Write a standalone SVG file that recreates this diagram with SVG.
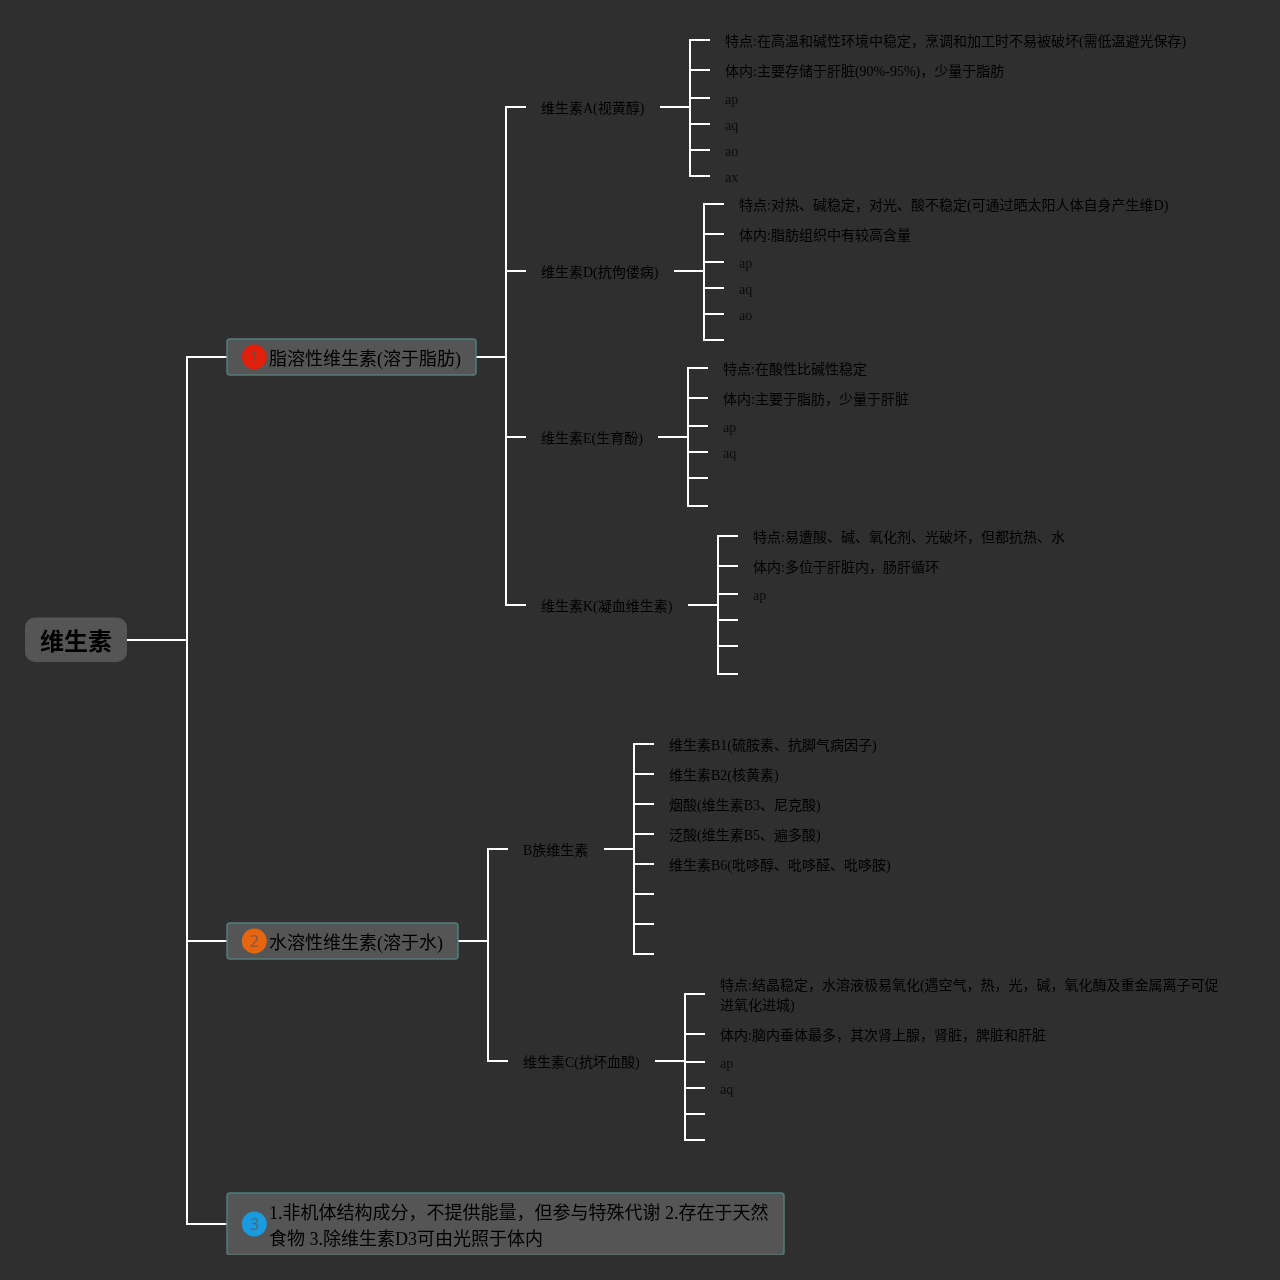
<svg xmlns="http://www.w3.org/2000/svg" width="1280" height="1280" viewBox="0 0 1280 1280">
<defs><filter id="soft" x="0" y="0" width="1" height="1" filterUnits="objectBoundingBox" color-interpolation-filters="sRGB"><feGaussianBlur stdDeviation="0.2"/></filter></defs>
<style>
text{font-family:"Liberation Serif","Noto Sans CJK SC",serif;fill:#000}
.r{font-family:"Noto Sans CJK SC","Liberation Sans",sans-serif;font-weight:700;font-size:24px;fill:#000}
.m{font-size:18px}
.s{font-size:14px}
.t{font-size:14px;fill:#0c0c0c}
.b{fill:#555;stroke:#4f7f78;stroke-width:1.5}
.n{font-family:"Noto Sans","Liberation Sans",sans-serif;font-size:17px;text-anchor:middle;fill:#555;fill-opacity:.65}
#connectors path{fill:none;stroke:#fff;stroke-width:2}
</style>
<rect width="1280" height="1280" fill="#2f2f2f"/>
<g id="connectors">
<path d="M127 640H187M227 357H187V1224H227M187 941H227"/>
<path d="M476 357H506M526 107H506V605H526M506 271H526M506 437H526"/>
<path d="M660 107H690M710 40H690V176H710M690 70H710M690 98H710M690 124H710M690 150H710"/>
<path d="M674 271H704M724 204H704V340H724M704 234H724M704 262H724M704 288H724M704 314H724"/>
<path d="M658 437H688M708 368H688V506H708M688 398H708M688 426H708M688 452H708M688 478H708"/>
<path d="M688 605H718M738 536H718V674H738M718 566H738M718 594H738M718 620H738M718 646H738"/>
<path d="M458 941H488M508 849H488V1061H508"/>
<path d="M604 849H634M654 744H634V954H654M634 774H654M634 804H654M634 834H654M634 864H654M634 894H654M634 924H654"/>
<path d="M655 1061H685M705 994H685V1140H705M685 1034H705M685 1062H705M685 1088H705M685 1114H705"/>
</g>
<g filter="url(#soft)">
<g id="root"><rect x="25" y="617.500" width="102" height="44.500" rx="10" fill="#555"/><text class="r" x="40" y="650">维生素</text></g>
<g id="n1"><rect class="b" x="227" y="339" width="249" height="36" rx="3"/><circle cx="254.300" cy="357" r="12.500" fill="#e0200a"/><text class="n" x="254.300" y="363">1</text><text class="m" x="269" y="365">脂溶性维生素(溶于脂肪)</text></g>
<g id="n2"><rect class="b" x="227" y="923" width="231" height="36" rx="3"/><circle cx="254.300" cy="941" r="12.500" fill="#e8650f"/><text class="n" x="254.300" y="947">2</text><text class="m" x="269" y="949">水溶性维生素(溶于水)</text></g>
<g id="n3"><rect class="b" x="227" y="1193" width="557" height="62" rx="3"/><circle cx="254.300" cy="1224" r="12.500" fill="#1a9be0"/><text class="n" x="254.300" y="1230">3</text><text class="m" x="269" y="1219">1.非机体结构成分，不提供能量，但参与特殊代谢 2.存在于天然</text><text class="m" x="269" y="1245">食物 3.除维生素D3可由光照于体内</text></g>
<g id="vita"><text class="s" x="541" y="113">维生素A(视黄醇)</text></g>
<g id="vitd"><text class="s" x="541" y="277">维生素D(抗佝偻病)</text></g>
<g id="vite"><text class="s" x="541" y="443">维生素E(生育酚)</text></g>
<g id="vitk"><text class="s" x="541" y="611">维生素K(凝血维生素)</text></g>
<g id="vitb"><text class="s" x="523" y="855">B族维生素</text></g>
<g id="vitc"><text class="s" x="523" y="1067">维生素C(抗坏血酸)</text></g>
<g id="a-items"><text class="s" x="725" y="46">特点:在高温和碱性环境中稳定，烹调和加工时不易被破坏(需低温避光保存)</text><text class="s" x="725" y="76">体内:主要存储于肝脏(90%-95%)，少量于脂肪</text><text class="t" x="725" y="104">ap</text><text class="t" x="725" y="130">aq</text><text class="t" x="725" y="156">ao</text><text class="t" x="725" y="182">ax</text></g>
<g id="d-items"><text class="s" x="739" y="210">特点:对热、碱稳定，对光、酸不稳定(可通过晒太阳人体自身产生维D)</text><text class="s" x="739" y="240">体内:脂肪组织中有较高含量</text><text class="t" x="739" y="268">ap</text><text class="t" x="739" y="294">aq</text><text class="t" x="739" y="320">ao</text></g>
<g id="e-items"><text class="s" x="723" y="374">特点:在酸性比碱性稳定</text><text class="s" x="723" y="404">体内:主要于脂肪，少量于肝脏</text><text class="t" x="723" y="432">ap</text><text class="t" x="723" y="458">aq</text></g>
<g id="k-items"><text class="s" x="753" y="542">特点:易遭酸、碱、氧化剂、光破坏，但都抗热、水</text><text class="s" x="753" y="572">体内:多位于肝脏内，肠肝循环</text><text class="t" x="753" y="600">ap</text></g>
<g id="b-items"><text class="s" x="669" y="750">维生素B1(硫胺素、抗脚气病因子)</text><text class="s" x="669" y="780">维生素B2(核黄素)</text><text class="s" x="669" y="810">烟酸(维生素B3、尼克酸)</text><text class="s" x="669" y="840">泛酸(维生素B5、遍多酸)</text><text class="s" x="669" y="870">维生素B6(吡哆醇、吡哆醛、吡哆胺)</text></g>
<g id="c-items"><text class="s" x="720" y="990">特点:结晶稳定，水溶液极易氧化(遇空气，热，光，碱，氧化酶及重金属离子可促</text><text class="s" x="720" y="1010">进氧化进城)</text><text class="s" x="720" y="1040">体内:脑内垂体最多，其次肾上腺，肾脏，脾脏和肝脏</text><text class="t" x="720" y="1068">ap</text><text class="t" x="720" y="1094">aq</text></g>
</g>
</svg>
